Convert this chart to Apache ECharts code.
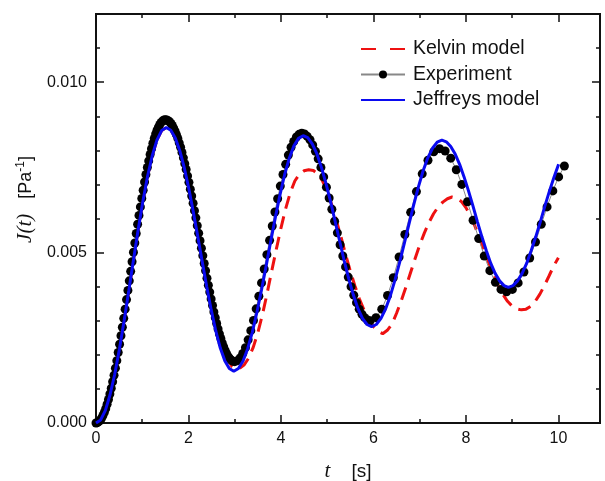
<!DOCTYPE html>
<html>
<head>
<meta charset="utf-8">
<script src="https://cdn.jsdelivr.net/npm/echarts@6/dist/echarts.min.js"></script>
<style>
  html, body { margin: 0; padding: 0; background: #fff; }
  #chart { width: 605px; height: 481px; }
</style>
</head>
<body>
<div id="chart"></div>
<script>
// J(t) values below are in units of 1e-3 Pa^-1, t in seconds
const expTime = [
  0, 0.03, 0.06, 0.09, 0.12, 0.15, 0.18, 0.21, 0.24, 0.27, 0.3, 0.33, 0.36, 0.39, 0.42, 0.45, 0.48,
  0.51, 0.54, 0.57, 0.6, 0.63, 0.66, 0.69, 0.72, 0.75, 0.78, 0.81, 0.84, 0.87, 0.9, 0.93, 0.96, 0.99,
  1.02, 1.05, 1.08, 1.11, 1.14, 1.17, 1.2, 1.23, 1.26, 1.29, 1.32, 1.35, 1.38, 1.41, 1.44, 1.47, 1.5,
  1.53, 1.56, 1.59, 1.62, 1.65, 1.68, 1.71, 1.74, 1.77, 1.8, 1.83, 1.86, 1.89, 1.92, 1.95, 1.98,
  2.01, 2.04, 2.07, 2.1, 2.13, 2.16, 2.19, 2.22, 2.25, 2.28, 2.31, 2.34, 2.37, 2.4, 2.43, 2.46, 2.49,
  2.52, 2.55, 2.58, 2.61, 2.64, 2.67, 2.7, 2.73, 2.76, 2.79, 2.82, 2.85, 2.88, 2.91, 2.94, 2.97, 3.0,
  3.058, 3.116, 3.174, 3.232, 3.29, 3.348, 3.406, 3.464, 3.522, 3.58, 3.638, 3.696, 3.754, 3.812,
  3.87, 3.928, 3.986, 4.044, 4.102, 4.16, 4.218, 4.276, 4.334, 4.392, 4.45,
  4.509, 4.568, 4.628, 4.687, 4.746, 4.805, 4.864, 4.924, 4.983, 5.042, 5.101, 5.16, 5.22, 5.279,
  5.338, 5.397, 5.456, 5.516, 5.575, 5.634, 5.693, 5.752, 5.812, 5.871, 5.93,
  6.055, 6.18, 6.305, 6.43, 6.555, 6.68, 6.805, 6.93, 7.055, 7.18, 7.305, 7.43,
  7.551, 7.672, 7.792, 7.913, 8.034, 8.155, 8.276, 8.397, 8.518, 8.638, 8.759, 8.88,
  9.005, 9.13, 9.255, 9.38, 9.505, 9.63, 9.755, 9.88, 10.005, 10.13
];
const expJ = [
  0.00, 0.01, 0.04, 0.08, 0.14, 0.22, 0.31, 0.42, 0.55, 0.69, 0.85, 1.02, 1.21, 1.40, 1.61, 1.83, 2.07,
  2.31, 2.56, 2.81, 3.07, 3.34, 3.62, 3.89, 4.17, 4.45, 4.73, 5.01, 5.28, 5.56, 5.83, 6.09, 6.34, 6.59,
  6.83, 7.07, 7.29, 7.50, 7.69, 7.88, 8.05, 8.21, 8.35, 8.48, 8.59, 8.68, 8.76, 8.82, 8.86, 8.89, 8.90,
  8.89, 8.87, 8.84, 8.79, 8.73, 8.65, 8.56, 8.46, 8.35, 8.22, 8.09, 7.94, 7.78, 7.61, 7.44, 7.25,
  7.06, 6.86, 6.66, 6.45, 6.23, 6.02, 5.79, 5.57, 5.35, 5.13, 4.91, 4.68, 4.47, 4.25, 4.04, 3.84, 3.64,
  3.45, 3.26, 3.09, 2.92, 2.76, 2.61, 2.48, 2.35, 2.24, 2.14, 2.05, 1.97, 1.91, 1.86, 1.83, 1.81, 1.80,
  1.83, 1.91, 2.04, 2.21, 2.44, 2.71, 3.01, 3.35, 3.72, 4.11, 4.52, 4.94, 5.36, 5.78,
  6.19, 6.58, 6.95, 7.29, 7.59, 7.86, 8.09, 8.26, 8.39, 8.47, 8.50,
  8.48, 8.41, 8.31, 8.16, 7.97, 7.75, 7.50, 7.22, 6.92, 6.60, 6.27, 5.92, 5.58, 5.23,
  4.90, 4.58, 4.28, 4.00, 3.75, 3.53, 3.34, 3.19, 3.09, 3.02, 3.00,
  3.09, 3.34, 3.74, 4.26, 4.87, 5.53, 6.18, 6.79, 7.31, 7.71, 7.96, 8.05,
  7.98, 7.77, 7.43, 7.00, 6.49, 5.95, 5.41, 4.90, 4.47, 4.13, 3.92, 3.85,
  3.92, 4.11, 4.43, 4.84, 5.31, 5.83, 6.34, 6.81, 7.22, 7.54
];

const jeffreysTime = [
  0, 0.101, 0.203, 0.304, 0.405, 0.507, 0.608, 0.709, 0.811, 0.912, 1.013, 1.115, 1.216, 1.317, 1.419, 1.52,
  1.617, 1.715, 1.812, 1.909, 2.007, 2.104, 2.201, 2.299, 2.396, 2.493, 2.591, 2.688, 2.785, 2.883, 2.98,
  3.08, 3.18, 3.28, 3.38, 3.48, 3.58, 3.68, 3.78, 3.88, 3.98, 4.08, 4.18, 4.28, 4.38, 4.48,
  4.579, 4.677, 4.776, 4.875, 4.973, 5.072, 5.171, 5.269, 5.368, 5.467, 5.565, 5.664, 5.763, 5.861, 5.96,
  6.061, 6.163, 6.264, 6.365, 6.467, 6.568, 6.669, 6.771, 6.872, 6.973, 7.075, 7.176, 7.277, 7.379, 7.48,
  7.576, 7.672, 7.768, 7.864, 7.96, 8.056, 8.152, 8.248, 8.344, 8.44, 8.536, 8.632, 8.728, 8.824, 8.92,
  9.019, 9.117, 9.216, 9.315, 9.413, 9.512, 9.611, 9.709, 9.808, 9.907, 10.005
];
const jeffreysJ = [
  0, 0.09, 0.37, 0.83, 1.43, 2.17, 3.00, 3.88, 4.79, 5.67, 6.50, 7.24, 7.84, 8.30, 8.58, 8.67,
  8.59, 8.36, 7.99, 7.49, 6.88, 6.20, 5.47, 4.72, 3.99, 3.31, 2.70, 2.20, 1.83, 1.60, 1.52,
  1.60, 1.82, 2.18, 2.66, 3.25, 3.91, 4.61, 5.34, 6.04, 6.70, 7.29, 7.77, 8.13, 8.35, 8.43,
  8.37, 8.19, 7.90, 7.50, 7.03, 6.50, 5.92, 5.34, 4.76, 4.23, 3.76, 3.36, 3.07, 2.89, 2.83,
  2.89, 3.07, 3.35, 3.73, 4.20, 4.72, 5.28, 5.85, 6.41, 6.93, 7.40, 7.78, 8.06, 8.24, 8.30,
  8.25, 8.11, 7.89, 7.59, 7.22, 6.81, 6.37, 5.91, 5.47, 5.06, 4.69, 4.39, 4.17, 4.03, 3.98,
  4.03, 4.17, 4.39, 4.69, 5.06, 5.47, 5.91, 6.37, 6.81, 7.22, 7.59
];

const kelvinTime = [
  0, 0.101, 0.203, 0.304, 0.405, 0.507, 0.608, 0.709, 0.811, 0.912, 1.013, 1.115, 1.216, 1.317, 1.419, 1.52,
  1.621, 1.723, 1.824, 1.925, 2.027, 2.128, 2.229, 2.331, 2.432, 2.533, 2.635, 2.736, 2.837, 2.939, 3.04,
  3.1, 3.2, 3.3, 3.4, 3.5, 3.6, 3.7, 3.8, 3.9, 4.0, 4.1, 4.2, 4.3, 4.4, 4.5, 4.6,
  4.7, 4.8, 4.9, 5.0, 5.1, 5.2, 5.3, 5.4, 5.5, 5.6, 5.7, 5.8, 5.9, 6.0, 6.1, 6.2,
  6.3, 6.4, 6.5, 6.6, 6.7, 6.8, 6.9, 7.0, 7.1, 7.2, 7.3, 7.4, 7.5, 7.6, 7.7,
  7.8, 7.9, 8.0, 8.1, 8.2, 8.3, 8.4, 8.5, 8.6, 8.7, 8.8, 8.9, 9.0, 9.1, 9.2,
  9.3, 9.4, 9.5, 9.6, 9.7, 9.8, 9.9, 10.0
];
const kelvinJ = [
  0, 0.09, 0.37, 0.83, 1.43, 2.17, 3.00, 3.88, 4.79, 5.67, 6.50, 7.24, 7.84, 8.30, 8.58, 8.67,
  8.59, 8.36, 7.99, 7.50, 6.90, 6.22, 5.50, 4.75, 4.03, 3.35, 2.75, 2.26, 1.89, 1.66, 1.58,
  1.60, 1.70, 1.90, 2.22, 2.65, 3.18, 3.80, 4.46, 5.10, 5.72, 6.28, 6.75, 7.10, 7.30, 7.40, 7.43,
  7.41, 7.30, 7.10, 6.80, 6.40, 5.94, 5.45, 4.94, 4.46, 4.02, 3.63, 3.30, 3.03, 2.83, 2.69, 2.62,
  2.72, 2.90, 3.22, 3.58, 3.98, 4.40, 4.82, 5.22, 5.57, 5.88, 6.14, 6.34, 6.48, 6.58, 6.63,
  6.60, 6.50, 6.32, 6.07, 5.76, 5.41, 5.04, 4.68, 4.34, 4.03, 3.77, 3.57, 3.43, 3.35, 3.32,
  3.34, 3.42, 3.57, 3.78, 4.04, 4.32, 4.61, 4.85
];

const legendNames = ['Kelvin model', 'Experiment', 'Jeffreys model'];

const pairs = (ts, js) => ts.map((t, i) => [t, js[i] / 1000]);

const ink = '#111';
const sans = 'Liberation Sans, Arial, sans-serif';
const serif = 'Liberation Serif, Times New Roman, serif';

function makeAxis(kind, pos, interval, tickLen, withLabels) {
  const ax = {
    type: 'value',
    position: pos,
    min: 0,
    max: kind === 'x' ? 10.9 : 0.012,
    interval: interval,
    axisLine: { show: true, onZero: false, lineStyle: { color: ink, width: 2 } },
    axisTick: { show: true, inside: true, length: tickLen, lineStyle: { color: ink, width: 1.5 } },
    axisLabel: { show: false },
    splitLine: { show: false }
  };
  if (withLabels) {
    ax.axisLabel = {
      show: true,
      showMaxLabel: false,
      margin: kind === 'x' ? 8 : 9,
      fontSize: 16,
      fontFamily: sans,
      color: ink,
      formatter: kind === 'x' ? (v => String(v)) : (v => v.toFixed(3))
    };
  }
  return ax;
}

const xMain = makeAxis('x', 'bottom', 2, 8, true);
xMain.name = '{i|t}    {n|[s]}';
xMain.nameLocation = 'middle';
xMain.nameGap = 38;
xMain.nameTextStyle = {
  fontSize: 19, fontFamily: sans, color: ink,
  rich: {
    i: { fontFamily: serif, fontStyle: 'italic', fontSize: 21, color: ink },
    n: { fontFamily: sans, fontSize: 19, color: ink }
  }
};

const yMain = makeAxis('y', 'left', 0.005, 8, true);
yMain.name = '{i|J(t)}   {n|[Pa}{s|-1}{n|]}';
yMain.nameLocation = 'middle';
yMain.nameRotate = 90;
yMain.nameGap = 57;
yMain.nameTextStyle = {
  fontSize: 18, fontFamily: sans, color: ink,
  padding: [0, 0, 0, 38],
  rich: {
    i: { fontFamily: serif, fontStyle: 'italic', fontSize: 21, color: ink, lineHeight: 22 },
    n: { fontFamily: sans, fontSize: 18, color: ink, lineHeight: 22 },
    s: { fontFamily: sans, fontSize: 12, color: ink, lineHeight: 22, verticalAlign: 'top', padding: [0, 0, 8, 0] }
  }
};

const option = {
  animation: false,
  backgroundColor: '#fff',
  grid: { left: 96, right: 5, top: 14, bottom: 58, containLabel: false, outerBoundsMode: 'none' },
  legend: {
    orient: 'vertical',
    left: 355,
    top: 34,
    itemWidth: 44,
    itemHeight: 10,
    itemGap: 5.5,
    textStyle: { fontSize: 19.5, fontFamily: sans, color: ink, padding: [0, 0, 0, 3] },
    data: [
      { name: legendNames[0], itemStyle: { opacity: 0 }, lineStyle: { type: [15, 14] } },
      { name: legendNames[1] },
      { name: legendNames[2], itemStyle: { opacity: 0 } }
    ]
  },
  xAxis: [
    xMain,
    makeAxis('x', 'bottom', 1, 4, false),
    makeAxis('x', 'top', 2, 8, false),
    makeAxis('x', 'top', 1, 4, false)
  ],
  yAxis: [
    yMain,
    makeAxis('y', 'left', 0.001, 4, false),
    makeAxis('y', 'right', 0.005, 8, false),
    makeAxis('y', 'right', 0.001, 4, false)
  ],
  series: [
    {
      name: legendNames[0],
      type: 'line',
      data: pairs(kelvinTime, kelvinJ),
      symbol: 'none',
      lineStyle: { color: '#ee1111', width: 3, type: [13, 8] },
      itemStyle: { color: '#ee1111' },
      z: 2
    },
    {
      name: legendNames[1],
      type: 'line',
      data: pairs(expTime, expJ),
      symbol: 'circle',
      symbolSize: 9,
      showSymbol: true,
      showAllSymbol: true,
      itemStyle: { color: '#000' },
      lineStyle: { color: '#888', width: 1 },
      z: 3
    },
    {
      name: legendNames[2],
      type: 'line',
      data: pairs(jeffreysTime, jeffreysJ),
      symbol: 'none',
      lineStyle: { color: '#0a0af0', width: 3 },
      itemStyle: { color: '#0a0af0' },
      z: 4
    }
  ]
};

const chart = echarts.init(document.getElementById('chart'));
chart.setOption(option);
</script>
</body>
</html>
